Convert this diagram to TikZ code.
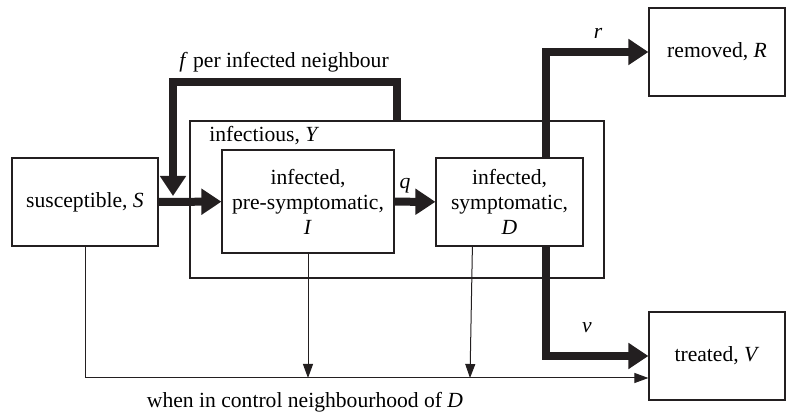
\documentclass[tikz,border=0pt]{standalone}
\usepackage{fontspec}
\setmainfont{Liberation Serif}
\usetikzlibrary{arrows.meta, positioning, calc}
\definecolor{inkdark}{RGB}{35, 31, 32}
\tikzset{
  compbox/.style={draw=inkdark, line width=0.6pt, align=center, inner sep=2pt},
  flowarrow/.style={draw=inkdark, line width=4pt, -{Triangle[length=10pt, width=12.5pt]}},
  ctrlarrow/.style={draw=inkdark, line width=0.5pt, -{Triangle[length=7pt, width=5pt]}},
  ctrlline/.style={draw=inkdark, line width=0.5pt}
}

\begin{document}
\begin{tikzpicture}[x=0.5pt, y=-0.5pt, font=\fontsize{10.8}{12.5}\selectfont]
  \useasboundingbox (0,0) rectangle (787,416);

  % Infectious compartment
  \node[compbox, minimum width=207pt, minimum height=78.5pt] (inf) at (397,199.5) {};
  \node[anchor=west, inner sep=0pt] (inflabel) at (209,136) {infectious, \textit{Y}};

  % Compartments
  \node[compbox, minimum width=73pt, minimum height=44pt] (sus) at (85,202) {susceptible, \textit{S}};
  \node[compbox, minimum width=86pt, minimum height=51.5pt] (pre) at (308,201.5) {infected,\\pre-symptomatic,\\\textit{I}};
  \node[compbox, minimum width=73.5pt, minimum height=44pt] (sym) at (509.5,202) {infected,\\symptomatic,\\\textit{D}};
  \node[compbox, minimum width=68pt, minimum height=44pt] (rem) at (717,52) {removed, \textit{R}};
  \node[compbox, minimum width=68pt, minimum height=44pt] (trt) at (717,356) {treated, \textit{V}};

  % Helper points
  \coordinate (fbtip) at (173,196);
  \coordinate (bot) at (470,378);

  % Transitions
  \draw[flowarrow] (sus) -- (pre);
  \draw[flowarrow] (inf.north) -- ++(0,-38) -| (fbtip);
  \draw[flowarrow] (pre) -- (sym);
  \draw[flowarrow] ($(sym.north west)+(110.5,0)$) |- (rem);
  \draw[flowarrow] ($(sym.south west)+(110.5,0)$) |- (trt);

  % Control
  \draw[ctrlarrow] (sus.south) |- (trt.west |- bot);
  \draw[ctrlarrow] (pre.south) -- (pre.south |- bot);
  \draw[ctrlarrow] ($(sym.south west)+(37,0)$) -- (bot);

  % Labels
  \node (flabel) at (284,62) {\textit{f} per infected neighbour};
  \node (qlabel) at (405,186) {\textit{q}};
  \node (rlabel) at (598,33) {\textit{r}};
  \node (vlabel) at (587,328) {\textit{v}};
  \node (clabel) at (305,402) {when in control neighbourhood of \textit{D}};
\end{tikzpicture}
\end{document}
